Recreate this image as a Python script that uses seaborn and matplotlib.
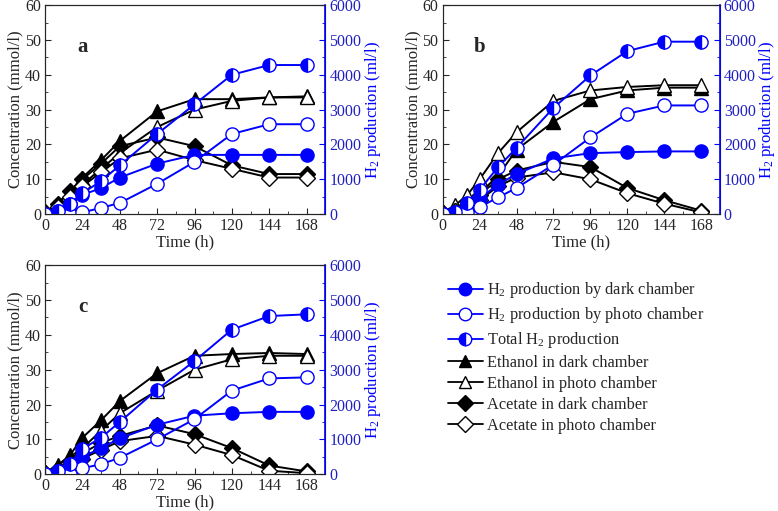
import numpy as np
import pandas as pd
import matplotlib
matplotlib.use('Agg')
import matplotlib.pyplot as plt
from matplotlib.lines import Line2D
import seaborn as sns

## ============================================================= ##

time_h = [0, 8, 16, 24, 36, 48, 72, 96, 120, 144, 168]
panels = ['a', 'b', 'c']

# concentrations (mmol/l)
ethanol_dark = {
	'a': [0.5, 3, 6.5, 10.5, 15.5, 21, 29.5, 33, 33, 33.5, 33.8],
	'b': [0.3, 1, 3, 6, 11, 18.5, 26.5, 33, 35.5, 36.3, 36.3],
	'c': [0.5, 2.5, 5.5, 10.5, 15.5, 21, 29, 34, 34.5, 34.8, 34.5],
}
ethanol_photo = {
	'a': [0.3, 2, 5, 8.5, 13, 17.5, 25, 30, 32.5, 33.5, 33.5],
	'b': [0.5, 2.5, 5.5, 10, 17.5, 23.5, 32.5, 35.5, 36.5, 37, 37],
	'c': [0.3, 1.5, 4, 7.5, 12.5, 17.5, 24, 30, 33, 34, 34],
}
acetate_dark = {
	'a': [0.5, 3, 6.5, 10, 14.5, 19.5, 22, 19.5, 14, 11.5, 11.5],
	'b': [0.3, 1, 2.5, 5.5, 10, 12.5, 15, 13.5, 7.5, 4, 1],
	'c': [0.3, 1.5, 3.5, 6, 9, 11, 14, 11.5, 7.5, 2.5, 0.8],
}
acetate_photo = {
	'a': [0.3, 2, 5, 8, 12, 16, 18.5, 15.5, 13, 10.5, 10.5],
	'b': [0.3, 0.8, 2, 4, 8, 10.5, 12, 10, 6, 3, 0.5],
	'c': [0.3, 1, 2.5, 4.5, 7, 9.5, 11, 8.5, 5.5, 1, 0.3],
}
# H2 production (ml/l)
h2_dark = {
	'a': [0, 100, 300, 550, 750, 1050, 1450, 1700, 1700, 1700, 1700],
	'b': [0, 50, 300, 450, 850, 1150, 1600, 1750, 1780, 1800, 1800],
	'c': [0, 100, 300, 500, 750, 1030, 1420, 1680, 1750, 1790, 1790],
}
h2_photo = {
	'a': [0, 0, 0, 50, 180, 320, 870, 1500, 2300, 2580, 2580],
	'b': [0, 0, 50, 200, 480, 750, 1420, 2200, 2880, 3120, 3120],
	'c': [0, 0, 0, 170, 290, 470, 1000, 1580, 2400, 2750, 2780],
}
h2_total = {
	'a': [0, 100, 300, 600, 950, 1400, 2300, 3150, 4000, 4280, 4280],
	'b': [0, 50, 330, 700, 1350, 1900, 3050, 3980, 4680, 4950, 4950],
	'c': [0, 100, 300, 730, 1050, 1500, 2430, 3250, 4150, 4540, 4590],
}

legend_labels = ['H$_2$ production by dark chamber', 'H$_2$ production by photo chamber',
	'Total H$_2$ production', 'Ethanol in dark chamber', 'Ethanol in photo chamber',
	'Acetate in dark chamber', 'Acetate in photo chamber']

## ============================================================= ##

sns.set_style('ticks')
plt.rcParams['font.family'] = ['Liberation Serif', 'DejaVu Serif']
plt.rcParams['mathtext.fontset'] = 'custom'
plt.rcParams['mathtext.rm'] = 'Liberation Serif'
plt.rcParams['mathtext.it'] = 'Liberation Serif:italic'
plt.rcParams['xtick.direction'] = 'in'
plt.rcParams['ytick.direction'] = 'in'

BLUE = '#0000ff'
MS = 9.5

black_styles = [
	dict(marker='^', markerfacecolor='black'),
	dict(marker='^', markerfacecolor='white'),
	dict(marker='D', markerfacecolor='black', markersize=MS - 1.5),
	dict(marker='D', markerfacecolor='white', markersize=MS - 1.5),
]
blue_styles = [
	dict(marker='o', markerfacecolor=BLUE),
	dict(marker='o', markerfacecolor='white'),
	dict(marker='o', markerfacecolor=BLUE, fillstyle='left', markerfacecoloralt='white'),
]

fig = plt.figure(figsize=(7.78, 5.11), dpi=100)
positions = {
	'a': [0.058, 0.581, 0.36, 0.409],
	'b': [0.569, 0.581, 0.356, 0.409],
	'c': [0.058, 0.072, 0.36, 0.409],
}

for p in panels:
	ax = fig.add_axes(positions[p])
	ax2 = ax.twinx()

	for vals, st in zip([ethanol_dark[p], ethanol_photo[p], acetate_dark[p], acetate_photo[p]], black_styles):
		kw = dict(color='black', markeredgecolor='black', markersize=MS, lw=1.4, markeredgewidth=1.0)
		kw.update(st)
		sns.lineplot(x=time_h, y=vals, ax=ax, **kw)

	for vals, st in zip([h2_dark[p], h2_photo[p], h2_total[p]], blue_styles):
		kw = dict(color=BLUE, markeredgecolor=BLUE, markersize=MS, lw=1.4, markeredgewidth=1.0)
		kw.update(st)
		sns.lineplot(x=time_h, y=vals, ax=ax2, **kw)

	ax.set_xlim(0, 180)
	ax.set_ylim(0, 60)
	ax2.set_ylim(0, 6000)
	ax.set_xticks(np.arange(0, 169, 24))
	ax.set_xticks(np.arange(12, 180, 24), minor=True)
	ax.set_yticks(np.arange(0, 61, 10))
	ax.set_yticks(np.arange(5, 60, 10), minor=True)
	ax2.set_yticks(np.arange(0, 6001, 1000))
	ax2.set_yticks(np.arange(500, 6000, 1000), minor=True)

	ax.tick_params(which='both', direction='in', labelsize=11.5, top=False, pad=3)
	ax.tick_params(which='major', length=4)
	ax.tick_params(which='minor', length=2)
	ax2.tick_params(which='both', direction='in', labelsize=11.5, colors=BLUE, labelcolor='#2020c0', pad=3)
	ax2.tick_params(which='major', length=4)
	ax2.tick_params(which='minor', length=2)
	ax2.spines['right'].set_color(BLUE)
	ax2.spines['right'].set_linewidth(1.2)

	ax.set_xlabel('Time (h)', fontsize=12, labelpad=0)
	ax.set_ylabel('Concentration (mmol/l)', fontsize=12, labelpad=1)
	ax2.set_ylabel('H$_2$ production (ml/l)', fontsize=12, color=BLUE, labelpad=1)
	ax.text(24, 48, p, fontsize=15, fontweight='bold', ha='center', va='center')

## ============================================================= ##

handles = []
for st in blue_styles:
	kw = dict(color=BLUE, markeredgecolor=BLUE, markersize=9, lw=1.3)
	kw.update(st)
	handles.append(Line2D([], [], **kw))
for st in black_styles:
	kw = dict(color='black', markeredgecolor='black', markersize=9, lw=1.3)
	kw.update(st)
	handles.append(Line2D([], [], **kw))

fig.legend(handles, legend_labels, loc='upper left', bbox_to_anchor=(0.557, 0.48),
	frameon=False, fontsize=11.8, handlelength=2.1, handletextpad=0.3, labelspacing=0.3)

fig.savefig('out.png', dpi=100)
